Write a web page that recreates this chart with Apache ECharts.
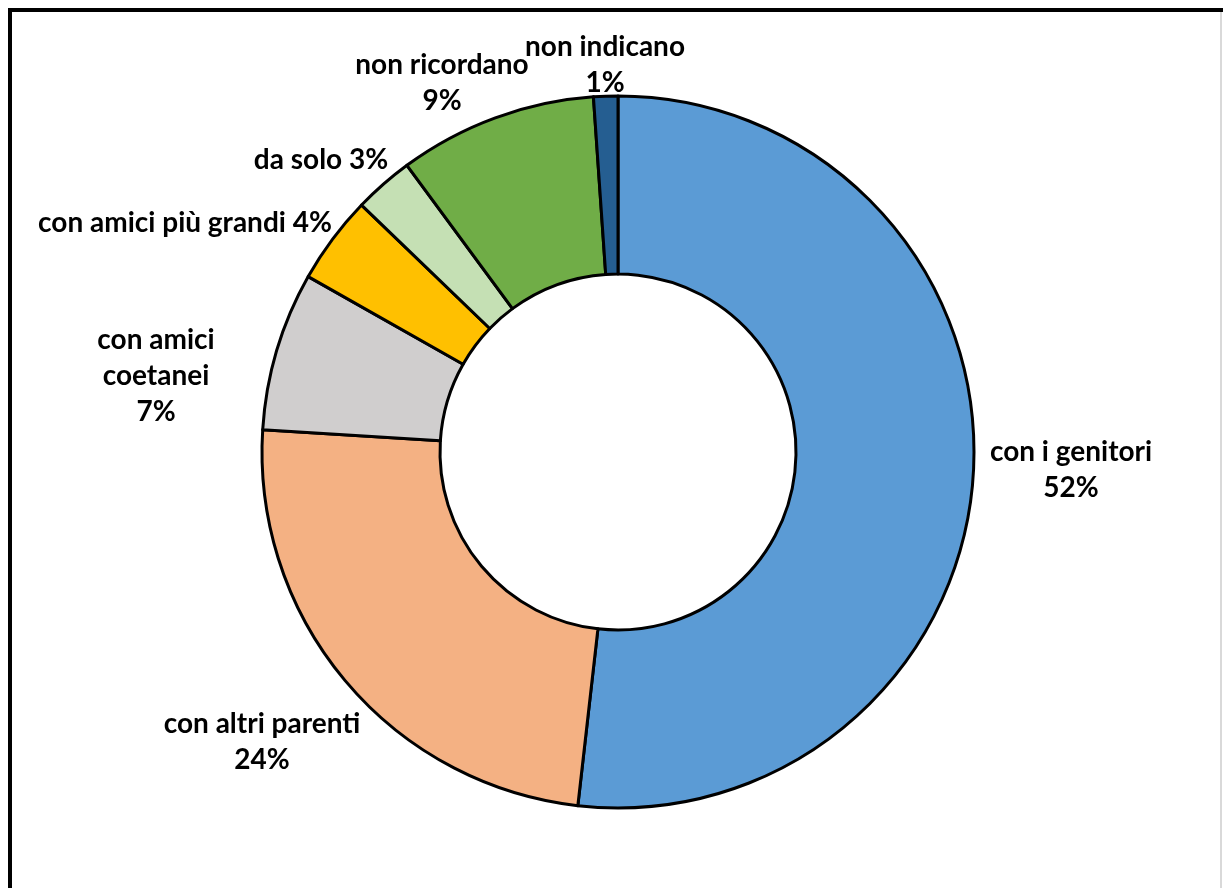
<!DOCTYPE html>
<html>
<head>
<meta charset="utf-8">
<script src="https://cdn.jsdelivr.net/npm/echarts@6/dist/echarts.min.js"></script>
<style>
html,body{margin:0;padding:0;background:#fff;}
#chart{width:1223px;height:888px;}
</style>
</head>
<body>
<div id="chart"></div>
<script>
// ---- data ----
const categories = ['con i genitori', 'con altri parenti', 'con amici\ncoetanei', 'con amici più grandi', 'da solo', 'non ricordano', 'non indicano'];
const values = [51.8, 24.2, 7.2, 4.0, 2.7, 9.0, 1.1];
const displayPct = ['52%', '24%', '7%', '4%', '3%', '9%', '1%'];
const colors = ['#5B9BD5', '#F4B183', '#D0CECE', '#FFC000', '#C5E0B4', '#70AD47', '#255E91'];

// label layout (text centres) and separator between name and percentage
const labelPos = [[1071, 470], [262, 742], [156, 376], [185, 223], [321, 160], [442, 83], [605, 65]];
const labelSep = ['\n', '\n', '\n', ' ', ' ', '\n', '\n'];

const chart = echarts.init(document.getElementById('chart'), null, {renderer: 'canvas'});
const data = categories.map((c, i) => ({
  name: c, value: values[i],
  itemStyle: {color: colors[i]}
}));

chart.setOption({
  animation: false,
  backgroundColor: '#ffffff',
  graphic: [
    {type: 'rect', shape: {x: 10, y: 10, width: 1240, height: 900}, style: {fill: 'none', stroke: '#000', lineWidth: 4}, z: 10},
    {type: 'line', shape: {x1: 1221, y1: 12, x2: 1221, y2: 888}, style: {stroke: '#d9d9d9', lineWidth: 2}, z: 10}
  ],
  series: [{
    type: 'pie',
    center: [618, 452],
    radius: [178, 356],
    startAngle: 90,
    clockwise: true,
    avoidLabelOverlap: false,
    data: data,
    itemStyle: {borderColor: '#000', borderWidth: 3},
    label: {
      show: true,
      position: 'outside',
      formatter: p => p.name + labelSep[p.dataIndex] + displayPct[p.dataIndex],
      fontFamily: 'Lato',
      fontWeight: 'bold',
      fontSize: 28,
      lineHeight: 36,
      color: '#000',
      align: 'center'
    },
    labelLine: {show: false},
    labelLayout: function (params) {
      const p = labelPos[params.dataIndex];
      return {x: p[0], y: p[1], align: 'center', verticalAlign: 'middle'};
    },
    emphasis: {disabled: true}
  }]
});
</script>
</body>
</html>
